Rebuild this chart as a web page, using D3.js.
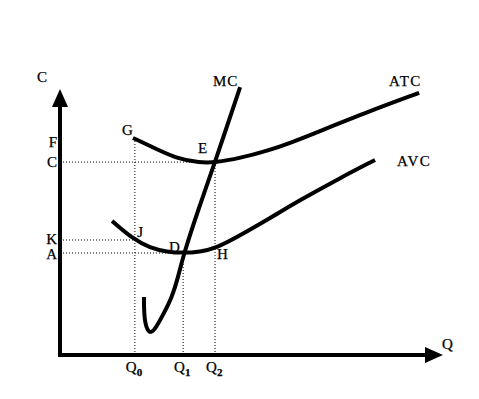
<!DOCTYPE html>
<html><head><meta charset="utf-8">
<script src="https://cdn.jsdelivr.net/npm/d3@7"></script>
<style>
html,body{margin:0;padding:0;background:#fff;}
text{font-family:"Liberation Serif","Times New Roman",serif;fill:#000;stroke:#000;stroke-width:0.25px;}
</style></head>
<body><svg id="chart" width="479" height="399"></svg>
<script>
// Data (Q on x, cost C on y, arbitrary units 0..100)
const atcQ = [19.2, 23.7, 30.8, 36.8, 40.8, 47.4, 54.5, 61.3, 67.9, 81.6, 94.5];
const atcC = [81.9, 78.9, 74.0, 72.6, 72.6, 74.3, 77.0, 80.4, 84.2, 92.1, 98.9];
const avcQ = [13.7, 19.2, 23.7, 28.2, 32.4, 36.8, 41.1, 46.6, 55.3, 63.2, 73.7, 82.9];
const avcC = [50.6, 43.8, 40.4, 38.9, 38.5, 38.9, 40.4, 44.5, 51.7, 58.5, 66.8, 73.6];
const mcQ = [22.1, 22.1, 22.4, 23.5, 25.0, 27.1, 29.5, 31.1, 32.4, 36.6, 40.8, 47.4];
const mcC = [21.9, 17.0, 11.5, 7.9, 9.6, 15.1, 21.9, 29.4, 37.4, 55.8, 72.8, 101.1];
// key quantities / price levels
const qLabels = ["Q0", "Q1", "Q2"];
const qValues = [19.7, 32.4, 40.8];
const cLabels = ["F", "C", "K", "A"];
const cValues = [80.5, 72.8, 43.4, 38.5];
// point labels
const pointNames = ["G", "E", "J", "D", "H"];
const pointQ = [16.3, 36.3, 20.3, 28.7, 41.3];
const pointC = [83.0, 76.2, 44.5, 38.9, 36.2];

const svg = d3.select("#chart");
const x = d3.scaleLinear().domain([0, 100]).range([60, 440]);
const y = d3.scaleLinear().domain([0, 100]).range([355, 90]);

// dotted guide lines
const guide = svg.append("g").attr("stroke", "#000").attr("stroke-width", 1).attr("stroke-dasharray", "1,2").attr("fill", "none");
guide.append("line").attr("x1", x(0)).attr("x2", x(qValues[2])).attr("y1", y(cValues[1])).attr("y2", y(cValues[1]));
guide.append("line").attr("x1", x(0)).attr("x2", x(qValues[0])).attr("y1", y(cValues[2])).attr("y2", y(cValues[2]));
guide.append("line").attr("x1", x(0)).attr("x2", x(qValues[1])).attr("y1", y(cValues[3])).attr("y2", y(cValues[3]));
guide.append("line").attr("x1", x(qValues[0])).attr("x2", x(qValues[0])).attr("y1", y(0)).attr("y2", y(atcC[0]) + 2);
guide.append("line").attr("x1", x(qValues[1])).attr("x2", x(qValues[1])).attr("y1", y(0)).attr("y2", y(cValues[3]));
guide.append("line").attr("x1", x(qValues[2])).attr("x2", x(qValues[2])).attr("y1", y(0)).attr("y2", y(cValues[1]));

// curves
const line = d3.line().x(d => x(d[0])).y(d => y(d[1])).curve(d3.curveBasis);
const curves = [
  d3.zip(atcQ, atcC),
  d3.zip(avcQ, avcC),
  d3.zip(mcQ, mcC)
];
svg.append("g").selectAll("path").data(curves).join("path")
  .attr("d", line).attr("fill", "none").attr("stroke", "#000")
  .attr("stroke-width", 4).attr("stroke-linecap", "butt").attr("stroke-linejoin", "round");

// axes
const ax = svg.append("g");
ax.append("line").attr("x1", x(0)).attr("x2", x(0)).attr("y1", y(0) + 2).attr("y2", y(100) + 16)
  .attr("stroke", "#000").attr("stroke-width", 4);
ax.append("line").attr("x1", x(0) - 2).attr("x2", x(100) - 14).attr("y1", y(0)).attr("y2", y(0))
  .attr("stroke", "#000").attr("stroke-width", 4);
ax.append("path").attr("d", `M${x(0)},${y(100) - 1} L${x(0) - 8},${y(100) + 17} L${x(0) + 8},${y(100) + 17} Z`).attr("fill", "#000");
ax.append("path").attr("d", `M${x(100) + 3},${y(0)} L${x(100) - 15},${y(0) - 8} L${x(100) - 15},${y(0) + 8} Z`).attr("fill", "#000");

// axis titles
svg.append("text").attr("x", 37).attr("y", 82).attr("font-size", 15).text("C");
svg.append("text").attr("x", x(100) + 2).attr("y", 349).attr("font-size", 15).text("Q");

// C-axis labels
svg.append("g").selectAll("text").data(cLabels).join("text")
  .attr("x", 57).attr("y", (d, i) => y(cValues[i]) + 5 + (d === "K" ? -1 : d === "A" ? 1 : 0))
  .attr("text-anchor", "end").attr("font-size", 15).text(d => d);

// Q-axis labels
const ql = svg.append("g").selectAll("text").data(qLabels).join("text")
  .attr("x", (d, i) => x(qValues[i]) - 9).attr("y", 372).attr("font-size", 15);
ql.append("tspan").text(d => d[0]);
ql.append("tspan").attr("font-size", 11).attr("font-weight", "bold").attr("dy", 4).text(d => d.slice(1));

// point labels
svg.append("g").selectAll("text").data(pointNames).join("text")
  .attr("x", (d, i) => x(pointQ[i])).attr("y", (d, i) => y(pointC[i]))
  .attr("font-size", 15).text(d => d);

// curve labels
svg.append("text").attr("x", 213).attr("y", 86).attr("font-size", 15).attr("letter-spacing", 1).text("MC");
svg.append("text").attr("x", 389).attr("y", 86).attr("font-size", 15).attr("letter-spacing", 1.5).text("ATC");
svg.append("text").attr("x", 397).attr("y", 166).attr("font-size", 15).attr("letter-spacing", 1.5).text("AVC");
</script></body></html>
